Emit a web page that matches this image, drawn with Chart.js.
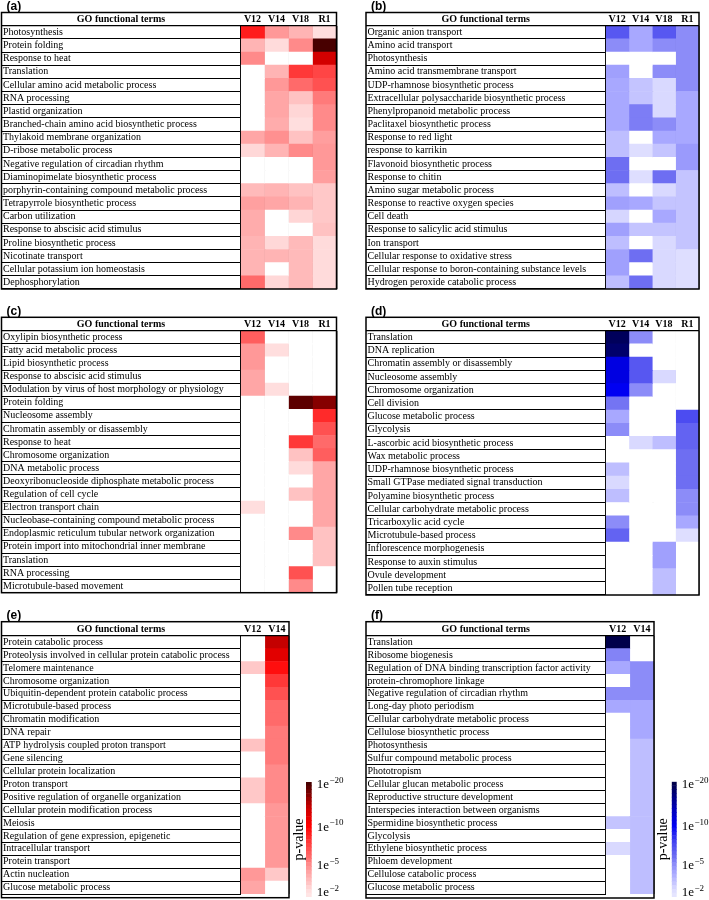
<!DOCTYPE html>
<html lang="en">
<head>
<meta charset="UTF-8">
<title>GO functional terms heatmaps</title>
<script src="https://cdn.jsdelivr.net/npm/chart.js"></script>
<style>
  body { margin: 0; background: #fff; }
  #page { position: relative; width: 709px; height: 900px; }
  #page canvas { position: absolute; left: 0; top: 0; }
</style>
</head>
<body>
<div id="page">
  <canvas id="pa" width="709" height="900"></canvas>
  <canvas id="pb" width="709" height="900"></canvas>
  <canvas id="pc" width="709" height="900"></canvas>
  <canvas id="pd" width="709" height="900"></canvas>
  <canvas id="pe" width="709" height="900"></canvas>
  <canvas id="pf" width="709" height="900"></canvas>
  <canvas id="ce" width="709" height="900"></canvas>
  <canvas id="cf" width="709" height="900"></canvas>
</div>
<script>
// values are -log10(p); 0 = term not enriched in that sample
const cols4 = ['V12', 'V14', 'V18', 'R1'];
const cols2 = ['V12', 'V14'];

const termsA = ['Photosynthesis', 'Protein folding', 'Response to heat', 'Translation',
  'Cellular amino acid metabolic process', 'RNA processing', 'Plastid organization',
  'Branched-chain amino acid biosynthetic process', 'Thylakoid membrane organization',
  'D-ribose metabolic process', 'Negative regulation of circadian rhythm',
  'Diaminopimelate biosynthetic process', 'porphyrin-containing compound metabolic process',
  'Tetrapyrrole biosynthetic process', 'Carbon utilization', 'Response to abscisic acid stimulus',
  'Proline biosynthetic process', 'Nicotinate transport', 'Cellular potassium ion homeostasis',
  'Dephosphorylation'];
const aV12 = [9, 3.5, 5, 0, 0, 0, 0, 0, 4, 2.2, 0, 0, 3.3, 4.2, 3.8, 3.8, 3.5, 3.5, 3.5, 6];
const aV14 = [4.5, 2.1, 0, 3.5, 4.5, 4, 4, 3.8, 4.8, 3.5, 0, 0, 3.5, 4, 0, 0, 2.2, 3.5, 0, 2.2];
const aV18 = [3.5, 5, 0, 8, 6, 3, 2.3, 2, 3, 5, 0, 0, 3, 3.5, 2.3, 0, 3.3, 3.3, 3.3, 3.3];
const aR1 = [2, 20, 13, 7.5, 7, 5.5, 5, 5, 4.3, 4.5, 4.5, 4.3, 2.8, 2.8, 2.8, 3, 2.1, 2.1, 2.1, 2.1];

const termsB = ['Organic anion transport', 'Amino acid transport', 'Photosynthesis',
  'Amino acid transmembrane transport', 'UDP-rhamnose biosynthetic process',
  'Extracellular polysaccharide biosynthetic process', 'Phenylpropanoid metabolic process',
  'Paclitaxel biosynthetic process', 'Response to red light', 'response to karrikin',
  'Flavonoid biosynthetic process', 'Response to chitin', 'Amino sugar metabolic process',
  'Response to reactive oxygen species', 'Cell death', 'Response to salicylic acid stimulus',
  'Ion transport', 'Cellular response to oxidative stress',
  'Cellular response to boron-containing substance levels', 'Hydrogen peroxide catabolic process'];
const bV12 = [7, 5, 0, 4.3, 4, 4, 4, 4, 3.2, 3.2, 6, 6, 3.2, 4.3, 2.3, 4.3, 3.2, 4.3, 4.3, 3.2];
const bV14 = [4, 4, 0, 0, 3, 3, 5.5, 5.5, 0, 2, 0, 2, 0, 4, 0, 3, 0, 6, 0, 6];
const bV18 = [7, 5, 0, 5, 2.2, 2.2, 2.2, 5, 4, 3, 0, 6, 2.2, 3, 4, 3, 2.2, 2.2, 2.2, 2.2];
const bR1 = [5, 5, 5, 5, 5, 4, 4, 4, 4, 4.5, 4.5, 3, 3, 3, 3, 3, 3, 2, 2, 2];

const termsC = ['Oxylipin biosynthetic process', 'Fatty acid metabolic process',
  'Lipid biosynthetic process', 'Response to abscisic acid stimulus',
  'Modulation by virus of host morphology or physiology', 'Protein folding',
  'Nucleosome assembly', 'Chromatin assembly or disassembly', 'Response to heat',
  'Chromosome organization', 'DNA metabolic process',
  'Deoxyribonucleoside diphosphate metabolic process', 'Regulation of cell cycle',
  'Electron transport chain', 'Nucleobase-containing compound metabolic process',
  'Endoplasmic reticulum tubular network organization',
  'Protein import into mitochondrial inner membrane', 'Translation', 'RNA processing',
  'Microtubule-based movement'];
const cV12 = [6.5, 4.5, 4.5, 4, 4, 0, 0, 0, 0, 0, 0, 0, 0, 2, 0, 0, 0, 0, 0, 0];
const cV14 = [0, 2, 0, 0, 2, 0, 0, 0, 0, 0, 0, 0, 0, 0, 0, 0, 0, 0, 0, 0];
const cV18 = [0, 0, 0, 0, 0, 19, 0, 0, 8, 3, 2.1, 0, 3, 0, 0, 5, 0, 0, 7, 5];
const cR1 = [0, 0, 0, 0, 0, 17, 8.5, 7, 6, 6.5, 4, 4, 4, 4, 4, 3, 3, 3, 0, 0];

const termsD = ['Translation', 'DNA replication', 'Chromatin assembly or disassembly',
  'Nucleosome assembly', 'Chromosome organization', 'Cell division',
  'Glucose metabolic process', 'Glycolysis', 'L-ascorbic acid biosynthetic process',
  'Wax metabolic process', 'UDP-rhamnose biosynthetic process',
  'Small GTPase mediated signal transduction', 'Polyamine biosynthetic process',
  'Cellular carbohydrate metabolic process', 'Tricarboxylic acid cycle',
  'Microtubule-based process', 'Inflorescence morphogenesis', 'Response to auxin stimulus',
  'Ovule development', 'Pollen tube reception'];
const dV12 = [19, 18, 11, 11, 10, 5.8, 4, 5, 0, 0, 3.2, 2.2, 3.2, 0, 5, 6.5, 0, 0, 0, 0];
const dV14 = [5, 0, 7, 7, 5, 0, 0, 0, 2.2, 0, 0, 0, 0, 0, 0, 0, 0, 0, 0, 0];
const dV18 = [0, 0, 0, 2.2, 0, 0, 0, 0, 3.2, 0, 0, 0, 0, 0, 0, 0, 4.3, 4.3, 3.2, 3.2];
const dR1 = [0, 0, 0, 0, 0, 0, 7.5, 6.5, 6.5, 6, 6, 6, 5, 5, 4, 2, 0, 0, 0, 0];

const termsE = ['Protein catabolic process',
  'Proteolysis involved in cellular protein catabolic process', 'Telomere maintenance',
  'Chromosome organization', 'Ubiquitin-dependent protein catabolic process',
  'Microtubule-based process', 'Chromatin modification', 'DNA repair',
  'ATP hydrolysis coupled proton transport', 'Gene silencing', 'Cellular protein localization',
  'Proton transport', 'Positive regulation of organelle organization',
  'Cellular protein modification process', 'Meiosis', 'Regulation of gene expression, epigenetic',
  'Intracellular transport', 'Protein transport', 'Actin nucleation', 'Glucose metabolic process'];
const eV12 = [0, 0, 2.8, 0, 0, 0, 0, 0, 3, 0, 0, 2.8, 2.8, 0, 0, 0, 0, 0, 4.5, 4];
const eV14 = [14, 12, 9.5, 8, 7, 6, 6, 5.5, 5.5, 5.5, 5, 5, 5, 4.5, 4.5, 4.5, 4.5, 4.5, 2.8, 0];

const termsF = ['Translation', 'Ribosome biogenesis',
  'Regulation of DNA binding transcription factor activity', 'protein-chromophore linkage',
  'Negative regulation of circadian rhythm', 'Long-day photo periodism',
  'Cellular carbohydrate metabolic process', 'Cellulose biosynthetic process', 'Photosynthesis',
  'Sulfur compound metabolic process', 'Phototropism', 'Cellular glucan metabolic process',
  'Reproductive structure development', 'Interspecies interaction between organisms',
  'Spermidine biosynthetic process', 'Glycolysis', 'Ethylene biosynthetic process',
  'Phloem development', 'Cellulose catabolic process', 'Glucose metabolic process'];
const fV12 = [20, 5.3, 4, 0, 5, 4, 0, 0, 0, 0, 0, 0, 0, 0, 3, 0, 2.2, 0, 0, 0];
const fV14 = [0, 0, 5, 5, 5, 4, 4, 4, 3.2, 3.2, 3.2, 3.2, 3.2, 3.2, 3.2, 3.2, 3.2, 3.2, 3.2, 3.2];

// colour bar: -log10(p) of each band, top to bottom, and the labelled ones
const cbarBands = [20, 19, 18, 17, 16, 15, 14, 13, 12.5, 11.5, 10.8, 10,
  9.5, 9, 8.5, 8, 7.5, 7, 6.5, 6, 5.5, 5, 4.6, 4.1, 3.7, 3.3, 2.9, 2.4, 2, 1.6];
const cbarTickExps = [20, 10, 5, 2];

const redRamp = [[1, '#fff0f0'], [2, '#ffdede'], [3, '#ffc2c2'], [4, '#ffa6a6'], [5, '#ff8a8a'],
  [6, '#ff6a6a'], [8, '#ff3838'], [10, '#ff0000'], [14, '#c40000'], [20, '#480000']];
const blueRamp = [[1, '#f0f0ff'], [2, '#dedeff'], [3, '#c4c4ff'], [4, '#a8a8ff'], [5, '#8c8cf8'],
  [6, '#6e6ef2'], [8, '#4040f0'], [10, '#0000f2'], [14, '#0000ae'], [20, '#00004a']];

function hex(c) {
  return [1, 3, 5].map(i => parseInt(c.slice(i, i + 2), 16));
}

function shade(ramp, e) {
  if (!e) return '#ffffff';
  if (e <= ramp[0][0]) return ramp[0][1];
  for (let i = 1; i < ramp.length; i++) {
    if (e <= ramp[i][0]) {
      const t = (e - ramp[i - 1][0]) / (ramp[i][0] - ramp[i - 1][0]);
      const a = hex(ramp[i - 1][1]), b = hex(ramp[i][1]);
      return 'rgb(' + a.map((v, k) => Math.round(v + (b[k] - v) * t)).join(',') + ')';
    }
  }
  return ramp[ramp.length - 1][1];
}

const serif = '"Liberation Serif", "Times New Roman", serif';

const frame = {
  id: 'frame',
  afterDraw(chart, args, o) {
    const { ctx, chartArea: ca } = chart;
    const g = o.g;
    ctx.save();
    ctx.strokeStyle = '#000';
    ctx.lineWidth = 1.5;
    ctx.strokeRect(g.left, g.top, g.right - g.left, g.bottom - g.top);
    ctx.lineWidth = 1.3;
    ctx.beginPath();
    ctx.moveTo(g.left, ca.top);
    ctx.lineTo(g.right, ca.top);
    ctx.stroke();
    ctx.fillStyle = '#000';
    ctx.textAlign = 'center';
    ctx.textBaseline = 'middle';
    ctx.font = 'bold 10px ' + serif;
    ctx.fillText('GO functional terms', (g.left + g.labelRight) / 2, (g.top + ca.top) / 2 + 0.5);
    ctx.textAlign = 'left';
    ctx.font = 'bold 12px "Liberation Sans", Arial, sans-serif';
    ctx.fillText(o.tag, g.left + 5, g.top - 6);
    ctx.restore();
  }
};

// colour bar tick labels "1e" with a raised exponent, placed on the band of that exponent
const cbarLabels = {
  id: 'cbarLabels',
  afterDraw(chart) {
    const { ctx, scales: { y } } = chart;
    ctx.save();
    ctx.fillStyle = '#000';
    ctx.textAlign = 'left';
    ctx.textBaseline = 'middle';
    cbarTickExps.forEach(e => {
      const py = y.getPixelForValue(cbarBands.indexOf(e));
      const px = y.left + 5;
      ctx.font = '13px ' + serif;
      ctx.fillText('1e', px, py + 1);
      const w = ctx.measureText('1e').width;
      ctx.font = '9px ' + serif;
      ctx.fillText('\u2212' + e, px + w + 0.5, py - 3);
    });
    ctx.restore();
  }
};

function heatmap(id, g, tag, terms, colNames, series, ramp) {
  const datasets = series.map((vals, c) => ({
    data: vals.map(() => [c, c + 1]),
    backgroundColor: vals.map(v => shade(ramp, v)),
    borderWidth: 0,
    barPercentage: 1,
    categoryPercentage: 1,
    grouped: false
  }));
  const n = colNames.length;
  return new Chart(document.getElementById(id), {
    type: 'bar',
    data: { labels: terms, datasets },
    options: {
      indexAxis: 'y',
      responsive: false,
      animation: false,
      events: [],
      layout: {
        autoPadding: false,
        padding: { left: g.left + 1.5, top: g.top, right: 709 - g.right, bottom: 900 - g.bottom }
      },
      plugins: { legend: { display: false }, tooltip: { enabled: false }, frame: { g, tag } },
      scales: {
        x: {
          type: 'linear', position: 'top', min: 0, max: n, z: 1,
          afterBuildTicks: s => {
            const t = [];
            for (let i = 0; i <= 2 * n; i++) t.push({ value: i / 2 });
            s.ticks = t;
          },
          afterFit: s => { s.height = g.head - g.top; },
          ticks: {
            autoSkip: false, maxRotation: 0, padding: 0, color: '#000',
            font: { family: serif, size: 10, weight: 'bold' },
            callback: v => Number.isInteger(v) ? '' : colNames[Math.floor(v)]
          },
          grid: {
            drawTicks: false, lineWidth: 1.4,
            color: c => Number.isInteger(c.tick.value) ? '#000' : 'rgba(0,0,0,0)'
          },
          border: { display: false }
        },
        y: {
          type: 'category',
          afterFit: s => { s.width = g.labelRight - g.left - 1.5; },
          ticks: {
            autoSkip: false, crossAlign: 'far', padding: 0, color: '#000',
            font: { family: serif, size: 10 }
          },
          grid: {
            offset: true, drawOnChartArea: false, tickLength: g.labelRight - g.left,
            color: '#000', lineWidth: 1
          },
          border: { display: false }
        }
      }
    },
    plugins: [frame]
  });
}

function colorbar(id, cb, ramp) {
  const titleLine = 14 * 1.2;
  return new Chart(document.getElementById(id), {
    type: 'bar',
    data: {
      labels: cbarBands.map(String),
      datasets: [{
        data: cbarBands.map(() => [0, 1]),
        backgroundColor: cbarBands.map(e => shade(ramp, e)),
        borderWidth: 0, barPercentage: 1, categoryPercentage: 1
      }]
    },
    options: {
      indexAxis: 'y',
      responsive: false,
      animation: false,
      events: [],
      layout: {
        autoPadding: false,
        padding: { left: cb.titleX - titleLine / 2, top: cb.top, right: 709 - cb.barRight - cb.labelW, bottom: 900 - cb.bottom }
      },
      plugins: { legend: { display: false }, tooltip: { enabled: false } },
      scales: {
        x: { type: 'linear', min: 0, max: 1, display: false },
        y: {
          type: 'category', position: 'right',
          afterFit: s => { s.width = cb.labelW; },
          ticks: { display: false },
          grid: { display: false, drawTicks: false },
          border: { display: false }
        },
        yt: {
          axis: 'y', type: 'linear', position: 'left',
          afterFit: s => { s.width = cb.barLeft - (cb.titleX - titleLine / 2); },
          ticks: { display: false },
          grid: { display: false, drawTicks: false },
          border: { display: false },
          title: { display: true, text: 'p-value', color: '#000', padding: 0, font: { family: serif, size: 14 } }
        }
      }
    },
    plugins: [cbarLabels]
  });
}

heatmap('pa', { left: 1.5, top: 12.5, head: 25.7, bottom: 289, labelRight: 240.5, right: 336.5 },
  '(a)', termsA, cols4, [aV12, aV14, aV18, aR1], redRamp);
heatmap('pb', { left: 366, top: 12.5, head: 25.7, bottom: 289, labelRight: 605.5, right: 699 },
  '(b)', termsB, cols4, [bV12, bV14, bV18, bR1], blueRamp);
heatmap('pc', { left: 1.5, top: 317.3, head: 330.7, bottom: 592.7, labelRight: 240.5, right: 336.5 },
  '(c)', termsC, cols4, [cV12, cV14, cV18, cR1], redRamp);
heatmap('pd', { left: 366, top: 317.3, head: 330.7, bottom: 595, labelRight: 605.5, right: 699 },
  '(d)', termsD, cols4, [dV12, dV14, dV18, dR1], blueRamp);
heatmap('pe', { left: 1.5, top: 621.7, head: 635.7, bottom: 897.7, labelRight: 240.5, right: 289 },
  '(e)', termsE, cols2, [eV12, eV14], redRamp);
heatmap('pf', { left: 366, top: 621.7, head: 635.7, bottom: 898, labelRight: 605.5, right: 654 },
  '(f)', termsF, cols2, [fV12, fV14], blueRamp);

colorbar('ce', { titleX: 299, barLeft: 306, barRight: 311.7, top: 782, bottom: 897, labelW: 40 }, redRamp);
colorbar('cf', { titleX: 663.5, barLeft: 671.7, barRight: 676.7, top: 781.7, bottom: 897, labelW: 32 }, blueRamp);
</script>
</body>
</html>
